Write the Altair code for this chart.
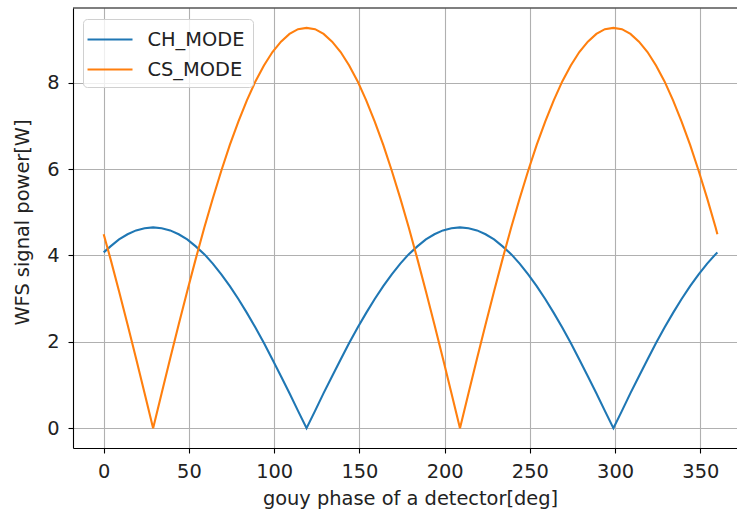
import altair as alt
import pandas as pd

# x positions (deg)
phase = [0] + [4 + 5 * k for k in range(72)] + [360]

ch_mode = [4.07,
    4.21, 4.37, 4.49, 4.58, 4.63, 4.65, 4.63, 4.58, 4.49, 4.37, 4.21, 4.03,
    3.81, 3.56, 3.29, 2.99, 2.67, 2.33, 1.97, 1.59, 1.20, 0.81, 0.40, 0.00,
    0.40, 0.81, 1.20, 1.59, 1.97, 2.33, 2.67, 2.99, 3.29, 3.56, 3.81, 4.03,
    4.21, 4.37, 4.49, 4.58, 4.63, 4.65, 4.63, 4.58, 4.49, 4.37, 4.21, 4.03,
    3.81, 3.56, 3.29, 2.99, 2.67, 2.33, 1.97, 1.59, 1.20, 0.81, 0.40, 0.00,
    0.40, 0.81, 1.20, 1.59, 1.97, 2.33, 2.67, 2.99, 3.29, 3.56, 3.81, 4.03,
    4.07]

cs_mode = [4.49,
    3.92, 3.17, 2.40, 1.61, 0.81, 0.00, 0.81, 1.61, 2.40, 3.17, 3.92, 4.64,
    5.32, 5.96, 6.56, 7.10, 7.59, 8.03, 8.40, 8.71, 8.95, 9.13, 9.24, 9.27,
    9.24, 9.13, 8.95, 8.71, 8.40, 8.03, 7.59, 7.10, 6.56, 5.96, 5.32, 4.64,
    3.92, 3.17, 2.40, 1.61, 0.81, 0.00, 0.81, 1.61, 2.40, 3.17, 3.92, 4.64,
    5.32, 5.96, 6.56, 7.10, 7.59, 8.03, 8.40, 8.71, 8.95, 9.13, 9.24, 9.27,
    9.24, 9.13, 8.95, 8.71, 8.40, 8.03, 7.59, 7.10, 6.56, 5.96, 5.32, 4.64,
    4.49]

series_names = ["CH_MODE", "CS_MODE"]
colors = ["#1f77b4", "#ff7f0e"]
x_ticks = [0, 50, 100, 150, 200, 250, 300, 350]
y_ticks = [0, 2, 4, 6, 8]

rows = []
for name, vals in zip(series_names, [ch_mode, cs_mode]):
    for i, (p, v) in enumerate(zip(phase, vals)):
        rows.append({"phase": p, "power": v, "mode": name, "order": i})
df = pd.DataFrame(rows)

FONT = "DejaVu Sans"
FS = 19.4

x_enc = alt.X("phase:Q",
              scale=alt.Scale(domain=[-18, 371.5], nice=False, zero=False),
              axis=alt.Axis(values=x_ticks, title="gouy phase of a detector[deg]",
                            grid=True, gridColor="#b0b0b0", gridWidth=1.1,
                            tickColor="black", tickSize=5, tickWidth=1.1,
                            domainColor="black", domainWidth=1.1,
                            labelFont=FONT, labelFontSize=FS, labelColor="#222",
                            labelPadding=9, titleFont=FONT, titleFontSize=FS,
                            titleFontWeight="normal", titleColor="#222",
                            titlePadding=9, titleX=337))
y_enc = alt.Y("power:Q",
              scale=alt.Scale(domain=[-0.46, 9.73], nice=False, zero=False),
              axis=alt.Axis(values=y_ticks, title="WFS signal power[W]",
                            grid=True, gridColor="#b0b0b0", gridWidth=1.1,
                            tickColor="black", tickSize=5, tickWidth=1.1,
                            domainColor="black", domainWidth=1.1,
                            labelFont=FONT, labelFontSize=FS, labelColor="#222",
                            labelPadding=9, titleFont=FONT, titleFontSize=FS,
                            titleFontWeight="normal", titleColor="#222",
                            titlePadding=14, titleY=214))

lines = alt.Chart(df).mark_line(strokeWidth=2.1).encode(
    x=x_enc,
    y=y_enc,
    order="order:Q",
    color=alt.Color("mode:N",
                    scale=alt.Scale(domain=series_names, range=colors),
                    legend=alt.Legend(title=None, orient="none", legendX=10, legendY=11,
                                      symbolType="M-1.42,0H2.58", symbolSize=506,
                                      symbolStrokeWidth=2.1,
                                      labelFont=FONT, labelFontSize=FS, labelColor="#222",
                                      rowPadding=8, padding=8,
                                      fillColor="rgba(255,255,255,0.8)",
                                      strokeColor="#d0d0d0", cornerRadius=4,
                                      labelOffset=31.5)),
)

top_border = alt.Chart(pd.DataFrame({"a": [0]})).mark_rule(color="black", strokeWidth=1.1).encode(
    x=alt.value(0), x2=alt.value(664), y=alt.value(0)
)

chart = alt.layer(lines, top_border).properties(
    width=664, height=440,
    padding={"left": 73, "top": 8, "right": 0, "bottom": 65},
    autosize=alt.AutoSizeParams(type="none"),
    background="white",
).configure_view(stroke=None)

chart.save("out.html", embed_options={"renderer": "svg", "actions": False})
